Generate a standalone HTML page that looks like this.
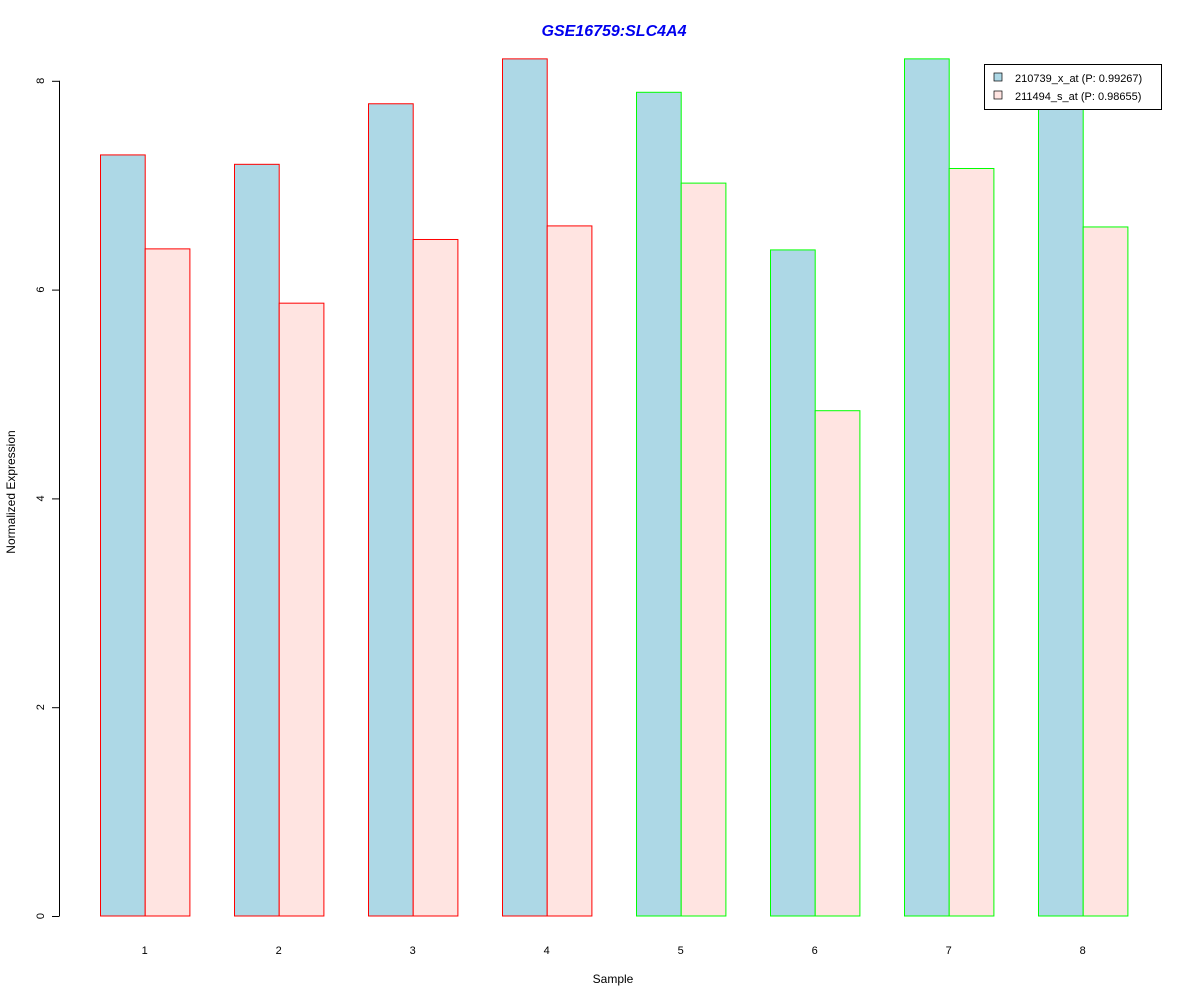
<!DOCTYPE html>
<html><head><meta charset="utf-8"><style>body{margin:0;background:#fff}svg{display:block;font-family:"Liberation Sans",Arial,sans-serif}</style></head>
<body>
<svg id="chart" width="1200" height="1000">
<rect width="1200" height="1000" fill="#fff"/>
<text x="614" y="36" text-anchor="middle" font-size="16" font-weight="bold" font-style="italic" fill="#0000ee">GSE16759:SLC4A4</text>
<text x="613" y="983" text-anchor="middle" font-size="12">Sample</text>
<text transform="translate(15,492) rotate(-90)" text-anchor="middle" font-size="12">Normalized Expression</text>
<g id="bars"></g>
<g id="axis"></g>
<g>
<rect x="984.5" y="64.5" width="177" height="45" fill="#fff" stroke="#000"/>
<rect x="994" y="73" width="8" height="8" fill="#add8e6" stroke="#000" stroke-width="0.7"/>
<text x="1015" y="82" font-size="11">210739_x_at (P: 0.99267)</text>
<rect x="994" y="91" width="8" height="8" fill="#ffe4e1" stroke="#000" stroke-width="0.7"/>
<text x="1015" y="100" font-size="11">211494_s_at (P: 0.98655)</text>
</g>
</svg>
<script>
const categories=["1","2","3","4","5","6","7","8"];
const series1=[7.29,7.20,7.78,8.21,7.89,6.38,8.21,7.80];
const series2=[6.39,5.87,6.48,6.61,7.02,4.84,7.16,6.60];
const groupColors=["red","red","red","red","lime","lime","lime","lime"];
const yTicks=[0,2,4,6,8];
const NS="http://www.w3.org/2000/svg";
const y=v=>916-v*104.4;
const x0=i=>100+i*134;
const bw=44.7;
const bars=document.getElementById('bars');
function mk(t,a,p){const e=document.createElementNS(NS,t);for(const k in a)e.setAttribute(k,a[k]);p.appendChild(e);return e;}
categories.forEach((c,i)=>{
  const b1=mk('rect',{x:x0(i)+0.5,y:y(series1[i]),width:bw,height:916-y(series1[i]),fill:'#add8e6',stroke:groupColors[i]},bars);
  
  
  const b2=mk('rect',{x:x0(i)+bw+0.5,y:y(series2[i]),width:bw,height:916-y(series2[i]),fill:'#ffe4e1',stroke:groupColors[i]},bars);
  
  
  const t=mk('text',{x:x0(i)+bw,y:954,'text-anchor':'middle','font-size':11},bars);
  t.textContent=c;
  
  
});
const ax=document.getElementById('axis');
mk('line',{x1:59.5,x2:59.5,y1:y(0),y2:y(8),stroke:'#000'},ax);
yTicks.forEach(v=>{
  mk('line',{x1:52,x2:59.5,y1:y(v)+0.5,y2:y(v)+0.5,stroke:'#000'},ax);
  const t=mk('text',{transform:`translate(44,${y(v)}) rotate(-90)`,'text-anchor':'middle','font-size':11},ax);
  t.textContent=v;
  
  
});
</script>
</body></html>
